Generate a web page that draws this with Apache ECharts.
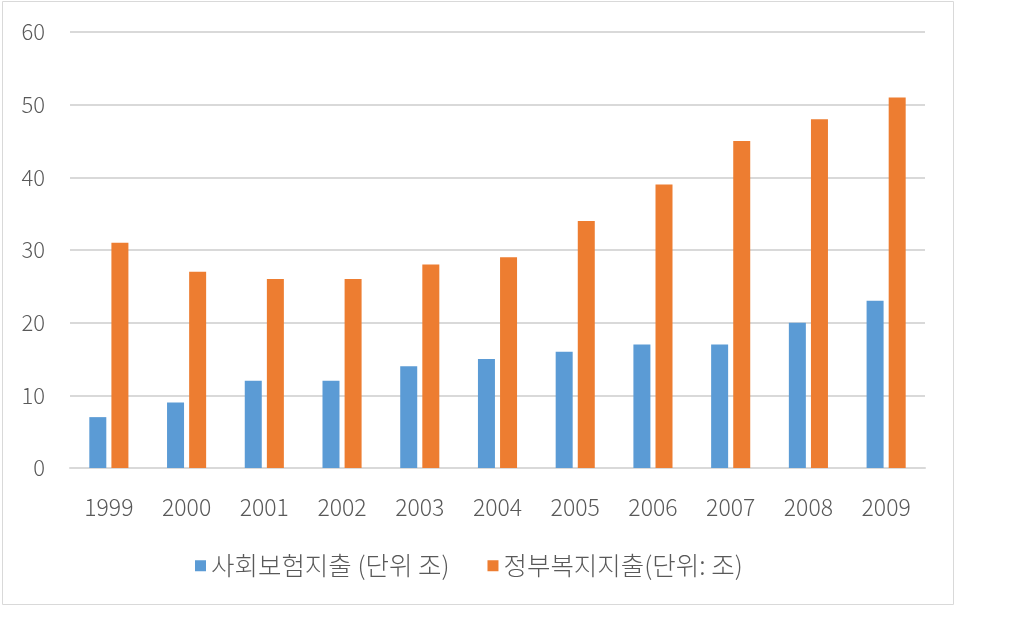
<!DOCTYPE html>
<html>
<head>
<meta charset="utf-8">
<script src="https://cdn.jsdelivr.net/npm/echarts@6/dist/echarts.min.js"></script>
<style>
html, body { margin: 0; padding: 0; background: #fff; }
#main { width: 1023px; height: 631px; }
</style>
</head>
<body>
<div id="main"></div>
<script>
var years = ['1999', '2000', '2001', '2002', '2003', '2004', '2005', '2006', '2007', '2008', '2009'];
var socialIns = [7, 9, 12, 12, 14, 15, 16, 17, 17, 20, 23];
var govWelfare = [31, 27, 26, 26, 28, 29, 34, 39, 45, 48, 51];
var seriesNames = ['사회보험지출 (단위 조)', '정부복지지출(단위: 조)'];

var chart = echarts.init(document.getElementById('main'));
var font = '"Noto Sans CJK KR", "Noto Sans", sans-serif';

var option = {
    textStyle: { fontFamily: font },
    graphic: [{
        type: 'rect',
        shape: { x: 2.5, y: 1.5, width: 951, height: 603 },
        style: { fill: 'none', stroke: '#d9d9d9', lineWidth: 1 },
        silent: true
    }],
    legend: {
        top: 548,
        left: 190,
        itemWidth: 11,
        itemHeight: 11,
        itemGap: 38,
        icon: 'rect',
        textStyle: { fontSize: 25.5, color: '#595959', fontWeight: 300, fontFamily: font }
    },
    grid: { left: 70, right: 98, top: 32, bottom: 163 },
    xAxis: {
        type: 'category',
        data: years,
        axisLine: { lineStyle: { color: '#d9d9d9', width: 2 } },
        axisTick: { show: false },
        axisLabel: { fontSize: 23, color: '#595959', fontWeight: 300, margin: 28, fontFamily: font }
    },
    yAxis: {
        type: 'value',
        min: 0,
        max: 60,
        interval: 10,
        axisLine: { show: false },
        axisTick: { show: false },
        axisLabel: { fontSize: 22, color: '#595959', fontWeight: 300, margin: 25, fontFamily: font },
        splitLine: { lineStyle: { color: '#d9d9d9', width: 2 } }
    },
    series: [
        {
            name: seriesNames[0],
            type: 'bar',
            data: socialIns,
            barWidth: 17,
            barGap: '30%',
            itemStyle: { color: '#5b9bd5' }
        },
        {
            name: seriesNames[1],
            type: 'bar',
            data: govWelfare,
            barWidth: 17,
            itemStyle: { color: '#ed7d31' }
        }
    ]
};

chart.setOption(option);
</script>
</body>
</html>
